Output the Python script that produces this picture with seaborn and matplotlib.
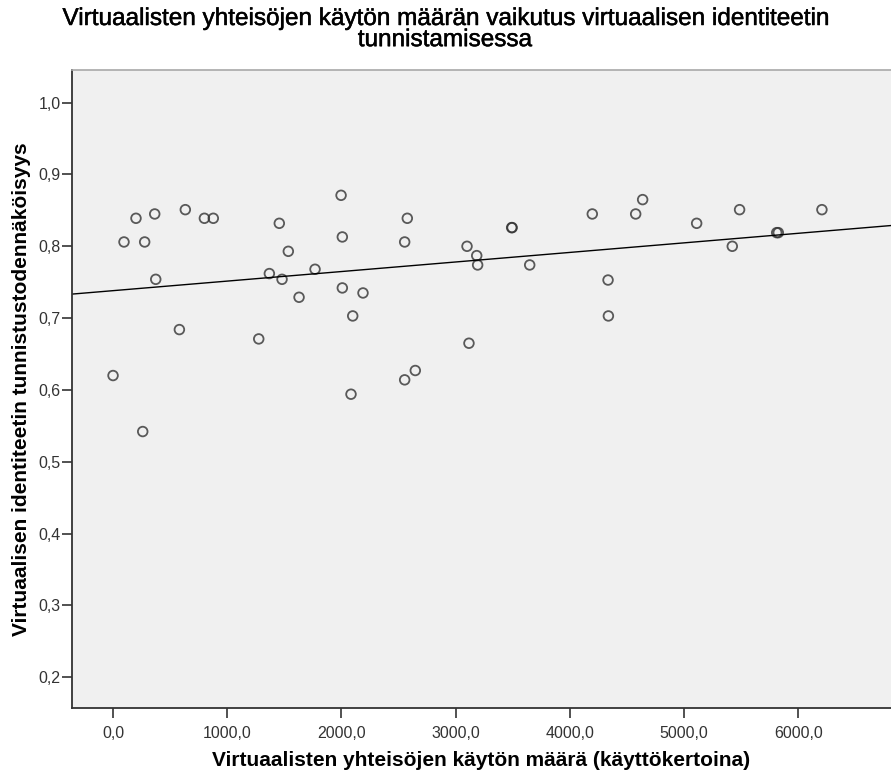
import numpy as np
import pandas as pd
import matplotlib
matplotlib.use("Agg")
import matplotlib.pyplot as plt
import matplotlib.patheffects as pe
import seaborn as sns
from matplotlib.ticker import FuncFormatter, FixedLocator

# Usage counts (times used) and identification probability per respondent
kayttokerrat = [0, 96, 201, 277, 260, 365, 374, 581, 633, 800, 878,
                1276, 1369, 1456, 1480, 1535, 1629, 1769, 1997, 2008, 2008,
                2099, 2084, 2189, 2577, 2554, 2554, 2647, 3100, 3185, 3193,
                3117, 3491, 3495, 3649, 4197, 4335, 4338, 4577, 4638, 5111,
                5487, 5423, 5812, 5826, 6208]
todennakoisyys = [0.620, 0.806, 0.839, 0.806, 0.542, 0.845, 0.754, 0.684, 0.851, 0.839, 0.839,
                  0.671, 0.762, 0.832, 0.754, 0.793, 0.729, 0.768, 0.871, 0.813, 0.742,
                  0.703, 0.594, 0.735, 0.839, 0.806, 0.614, 0.627, 0.800, 0.787, 0.774,
                  0.665, 0.826, 0.826, 0.774, 0.845, 0.753, 0.703, 0.845, 0.865, 0.832,
                  0.851, 0.800, 0.819, 0.819, 0.851]

x_ticks = [0, 1000, 2000, 3000, 4000, 5000, 6000]
y_ticks = [0.2, 0.3, 0.4, 0.5, 0.6, 0.7, 0.8, 0.9, 1.0]

title = "Virtuaalisten yhteisöjen käytön määrän vaikutus virtuaalisen identiteetin\ntunnistamisessa"
x_label = "Virtuaalisten yhteisöjen käytön määrä (käyttökertoina)"
y_label = "Virtuaalisen identiteetin tunnistustodennäköisyys"

df = pd.DataFrame({"kaytto": kayttokerrat, "tod": todennakoisyys})

sns.set_style("white")
plt.rcParams["font.family"] = ["Liberation Sans", "DejaVu Sans"]

W, H = 891, 776
ax_left, ax_top, ax_bottom = 71.7, 70, 708
fig = plt.figure(figsize=(W / 100, H / 100), dpi=100)
ax = fig.add_axes([ax_left / W, 1 - ax_bottom / H, 1 - ax_left / W, (ax_bottom - ax_top) / H])
ax.set_facecolor("#F0F0F0")

ax.set_xlim(-362, 6813)
ax.set_ylim(0.157, 1.0455)

sns.regplot(data=df, x="kaytto", y="tod", ax=ax, ci=None, truncate=False,
            scatter_kws=dict(s=48, facecolors="none", edgecolors="#333333", linewidths=1.3),
            line_kws=dict(color="black", lw=1.0))

ax.set_xlim(-362, 6813)
ax.set_ylim(0.157, 1.0455)

comma = lambda fmt: FuncFormatter(lambda v, p: (fmt % v).replace(".", ","))
ax.xaxis.set_major_locator(FixedLocator(x_ticks))
ax.yaxis.set_major_locator(FixedLocator(y_ticks))
ax.xaxis.set_major_formatter(comma("%.1f"))
ax.yaxis.set_major_formatter(comma("%.1f"))
ax.tick_params(axis="both", direction="out", length=7, width=1.2, color="#333333",
               labelsize=11.5, labelcolor="#333333", bottom=True, left=True)
ax.tick_params(axis="x", pad=6)
ax.tick_params(axis="y", pad=1)

for side in ("left", "bottom"):
    ax.spines[side].set_color("#333333")
    ax.spines[side].set_linewidth(1.3)
ax.spines["top"].set_color("#A8A8A8")
ax.spines["top"].set_linewidth(1.2)
ax.spines["right"].set_visible(False)

ax_w, ax_h = W - ax_left, ax_bottom - ax_top
ax.set_xlabel(x_label, fontsize=15, fontweight="bold", color="black")
ax.set_ylabel(y_label, fontsize=15, fontweight="bold", color="black")
ax.xaxis.set_label_coords(0.5, (ax_bottom - 751) / ax_h)
ax.yaxis.set_label_coords((31 - ax_left) / ax_w, 0.5)

title_fx = [pe.withStroke(linewidth=0.35, foreground="black")]
fig.text(0.499, 1 - 8 / H, title, ha="center", va="top", fontsize=17.5,
         color="black", linespacing=0.95, path_effects=title_fx)

fig.savefig("out.png", dpi=100, facecolor="white")
